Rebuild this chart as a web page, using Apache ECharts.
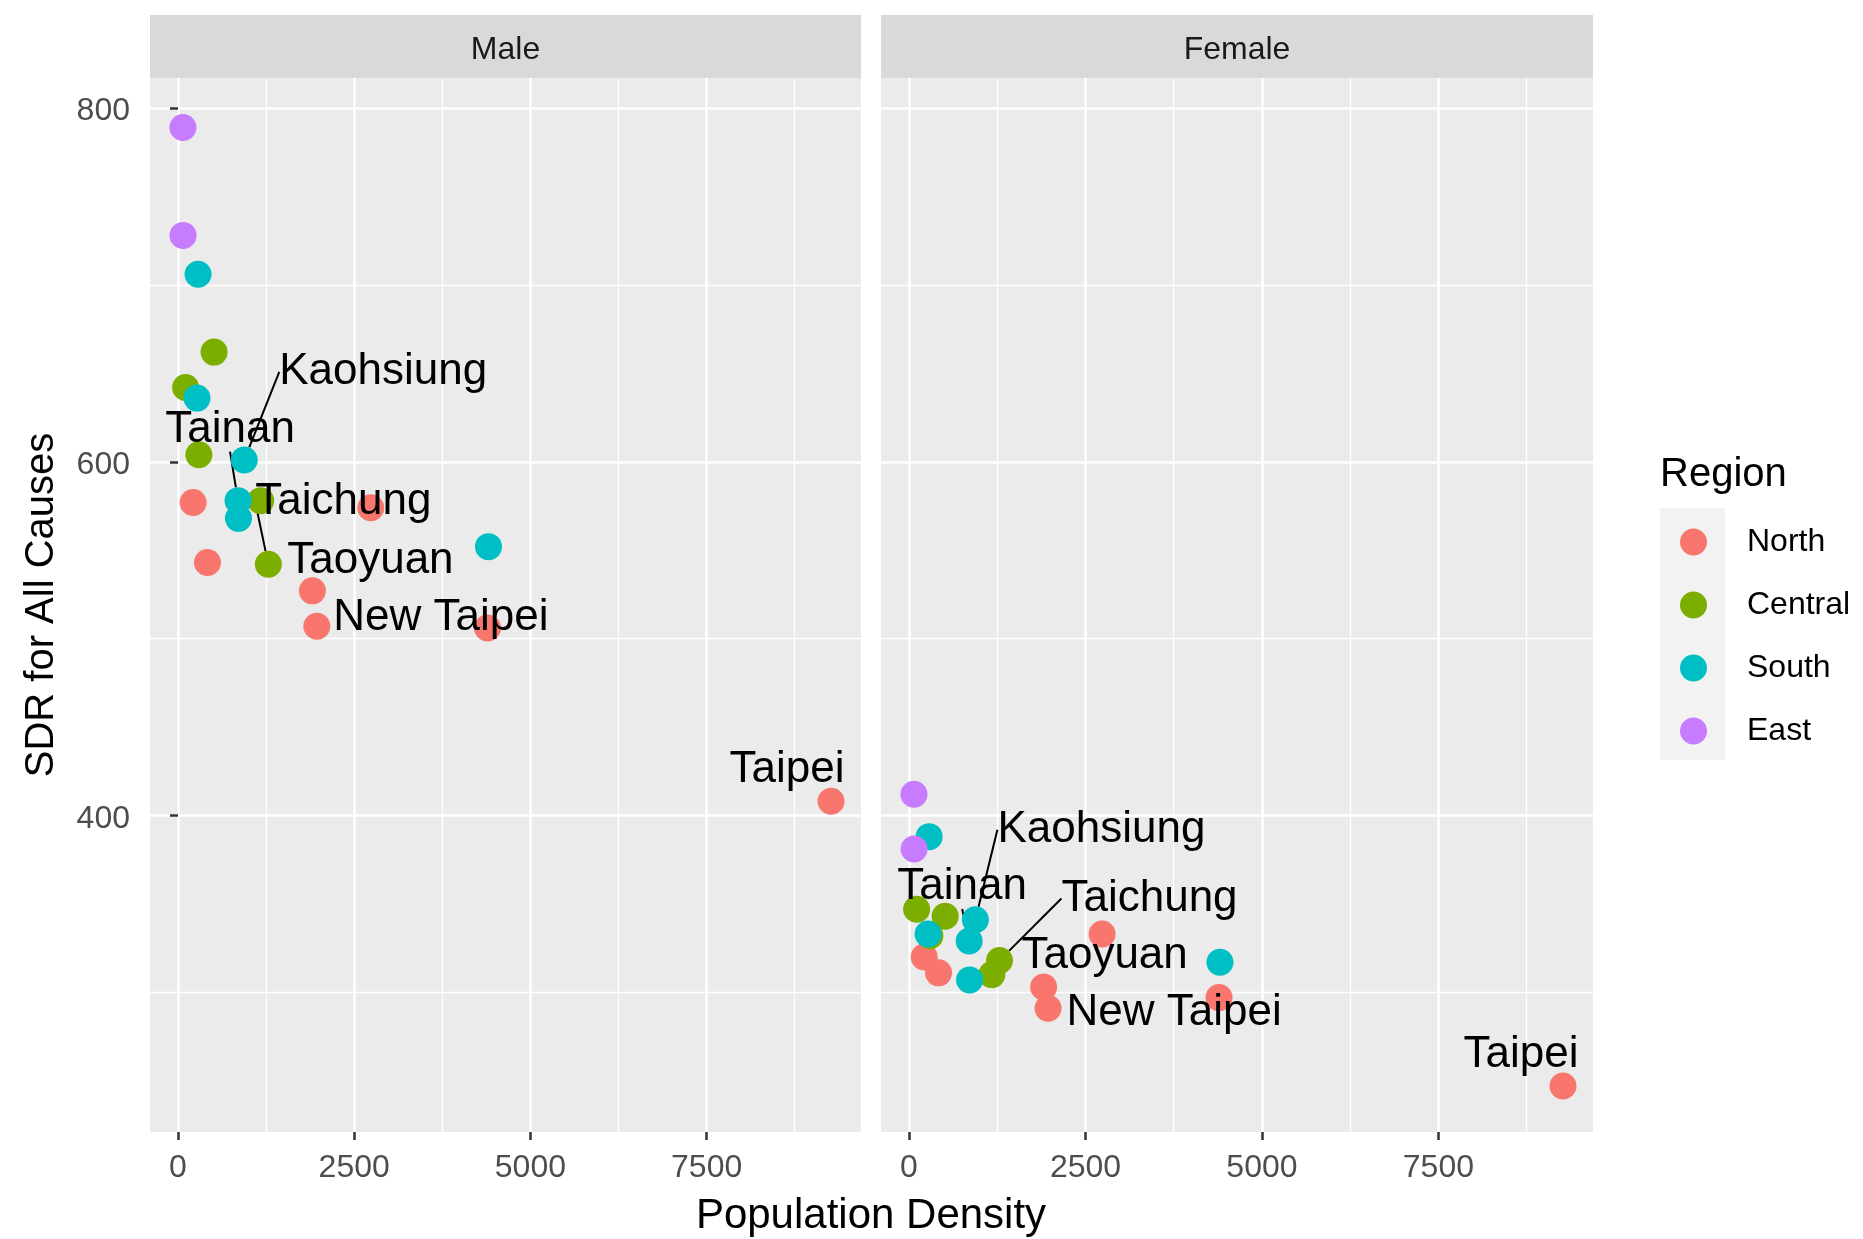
<!DOCTYPE html>
<html>
<head>
<meta charset="utf-8">
<script src="https://cdn.jsdelivr.net/npm/echarts@6/dist/echarts.min.js"></script>
<style>
html, body { margin: 0; background: #fff; }
#chart { width: 1863px; height: 1239px; }
</style>
</head>
<body>
<div id="chart"></div>
<script>
// values
const regions = ['North', 'Central', 'South', 'East'];
const panels = ['Male', 'Female'];

const northDensity = [215, 418, 1907, 1970, 2735, 4392, 9265];
const northMale = [577, 543, 527, 507, 574, 506, 408];
const northFemale = [320, 311, 303, 291, 333, 297, 247];
const northNames = ['', '', 'Taoyuan', 'New Taipei', '', '', 'Taipei'];

const centralDensity = [108, 512, 296, 1173, 1282];
const centralMale = [642, 662, 604, 578, 542];
const centralFemale = [347, 343, 332, 310, 318];
const centralNames = ['', '', '', '', 'Taichung'];

const southDensity = [285, 270, 940, 852, 858, 4405];
const southMale = [706, 636, 601, 578, 568, 552];
const southFemale = [388, 333, 341, 329, 307, 317];
const southNames = ['', '', 'Kaohsiung', 'Tainan', '', ''];

const eastDensity = [70, 72];
const eastMale = [789, 728];
const eastFemale = [412, 381];
const eastNames = ['', ''];

const xTicks = [0, 2500, 5000, 7500];
const xMinor = [1250, 3750, 6250, 8750];
const yTicks = [400, 600, 800];
const yMinor = [300, 500, 700];

const regionData = {
    North: { density: northDensity, Male: northMale, Female: northFemale, names: northNames },
    Central: { density: centralDensity, Male: centralMale, Female: centralFemale, names: centralNames },
    South: { density: southDensity, Male: southMale, Female: southFemale, names: southNames },
    East: { density: eastDensity, Male: eastMale, Female: eastFemale, names: eastNames }
};

// styling
const FONT = 'Liberation Sans';
const colors = { North: '#F8766D', Central: '#7CAE00', South: '#00BFC4', East: '#C77CFF' };
// label shift from its point, in px
const labelShift = {
    Male: { Kaohsiung: [139, -88], Tainan: [-8, -71], Taichung: [75, -62], Taoyuan: [58, -30], 'New Taipei': [124, -8], Taipei: [-44, -31] },
    Female: { Kaohsiung: [126, -90], Tainan: [-7, -54], Taichung: [150, -62], Taoyuan: [61, -31], 'New Taipei': [126, 5], Taipei: [-42, -31] }
};
const withLine = ['Kaohsiung', 'Tainan', 'Taichung'];

const grids = [
    { left: 150, top: 78, width: 711, height: 1054 },
    { left: 881, top: 78, width: 712, height: 1054 }
];
const xRange = [-397, 9690];
const yRange = [221, 817];

function mainX(g) {
    return {
        type: 'value', gridIndex: g, min: xRange[0], max: xRange[1],
        axisLine: { show: false },
        axisTick: { show: true, length: 8, customValues: xTicks, lineStyle: { color: '#333', width: 2.5 } },
        axisLabel: { customValues: xTicks, formatter: v => String(v), fontSize: 32, color: '#4D4D4D', fontFamily: FONT, margin: 20 },
        splitLine: { show: true, lineStyle: { color: '#fff', width: 2.5 } }
    };
}
function minorX(g) {
    return {
        type: 'value', gridIndex: g, min: xRange[0], max: xRange[1],
        axisLine: { show: false },
        axisTick: { show: false, customValues: xMinor },
        axisLabel: { show: false },
        splitLine: { show: true, lineStyle: { color: '#fff', width: 1.3 } }
    };
}
function mainY(g) {
    return {
        type: 'value', gridIndex: g, min: yRange[0], max: yRange[1],
        name: g === 0 ? 'SDR for All Causes' : '',
        nameLocation: 'middle', nameGap: 88,
        nameTextStyle: { fontSize: 40, color: '#000', fontFamily: FONT },
        axisLine: { show: false },
        axisTick: { show: g === 0, length: 8, customValues: yTicks, lineStyle: { color: '#333', width: 2.5 } },
        axisLabel: {
            show: g === 0, customValues: yTicks, margin: 20,
            formatter: v => '{v|' + v + '}',
            rich: { v: { fontSize: 32, color: '#4D4D4D', fontFamily: FONT, padding: [7, 0, 0, 0] } }
        },
        splitLine: { show: true, lineStyle: { color: '#fff', width: 2.5 } }
    };
}
function minorY(g) {
    return {
        type: 'value', gridIndex: g, min: yRange[0], max: yRange[1],
        axisLine: { show: false },
        axisTick: { show: false, customValues: yMinor },
        axisLabel: { show: false },
        splitLine: { show: true, lineStyle: { color: '#fff', width: 1.3 } }
    };
}

const series = [];
panels.forEach((panel, p) => {
    regions.forEach(r => {
        const d = regionData[r];
        series.push({
            name: r,
            type: 'scatter',
            xAxisIndex: p,
            yAxisIndex: p,
            symbolSize: 27,
            itemStyle: { color: colors[r], opacity: 1 },
            emphasis: { disabled: true },
            label: { show: false, position: 'inside', formatter: '{b}', color: '#000', fontSize: 44, fontFamily: FONT },
            labelLine: { show: false, lineStyle: { color: '#000', width: 2 } },
            labelLayout: params => {
                const s = labelShift[panel][d.names[params.dataIndex]];
                return s ? { dx: s[0], dy: s[1] } : {};
            },
            data: d.density.map((x, i) => ({
                value: [x, d[panel][i]],
                name: d.names[i],
                label: { show: d.names[i] !== '' },
                labelLine: { show: withLine.includes(d.names[i]) }
            }))
        });
    });
});

function strip(g, text) {
    const gr = grids[g];
    return [
        { type: 'rect', shape: { x: gr.left, y: 15, width: gr.width, height: 63 }, style: { fill: '#D9D9D9' }, z: 1 },
        { type: 'text', x: gr.left + gr.width / 2, y: 50, z: 2,
          style: { text: text, fontSize: 32, fontFamily: FONT, fill: '#1A1A1A', align: 'center', verticalAlign: 'middle', textAlign: 'center', textVerticalAlign: 'middle' } }
    ];
}

const chart = echarts.init(document.getElementById('chart'));
chart.setOption({
    animation: false,
    backgroundColor: '#fff',
    grid: grids.map(g => Object.assign({ show: true, backgroundColor: '#EBEBEB', borderWidth: 0 }, g)),
    xAxis: [mainX(0), mainX(1), minorX(0), minorX(1)],
    yAxis: [mainY(0), mainY(1), minorY(0), minorY(1)],
    legend: {
        orient: 'vertical', left: 1680, top: 526, padding: 0,
        itemWidth: 27, itemHeight: 27, itemGap: 31, icon: 'circle',
        selectedMode: false,
        formatter: name => '{t|' + name + '}',
        textStyle: {
            fontSize: 32, color: '#000', fontFamily: FONT,
            rich: { t: { fontSize: 32, color: '#000', fontFamily: FONT, padding: [0, 0, 0, 35] } }
        },
        data: regions
    },
    graphic: [].concat(
        strip(0, 'Male'),
        strip(1, 'Female'),
        [
            { type: 'rect', shape: { x: 1660, y: 508, width: 65, height: 252 }, style: { fill: '#F2F2F2' }, z: -1 },
            { type: 'text', x: 1660, y: 475,
              style: { text: 'Region', fontSize: 40, fontFamily: FONT, fill: '#000', align: 'left', verticalAlign: 'middle', textAlign: 'left', textVerticalAlign: 'middle' } },
            { type: 'text', x: 871, y: 1216,
              style: { text: 'Population Density', fontSize: 42, fontFamily: FONT, fill: '#000', align: 'center', verticalAlign: 'middle', textAlign: 'center', textVerticalAlign: 'middle' } }
        ]
    ),
    series: series
});
</script>
</body>
</html>
